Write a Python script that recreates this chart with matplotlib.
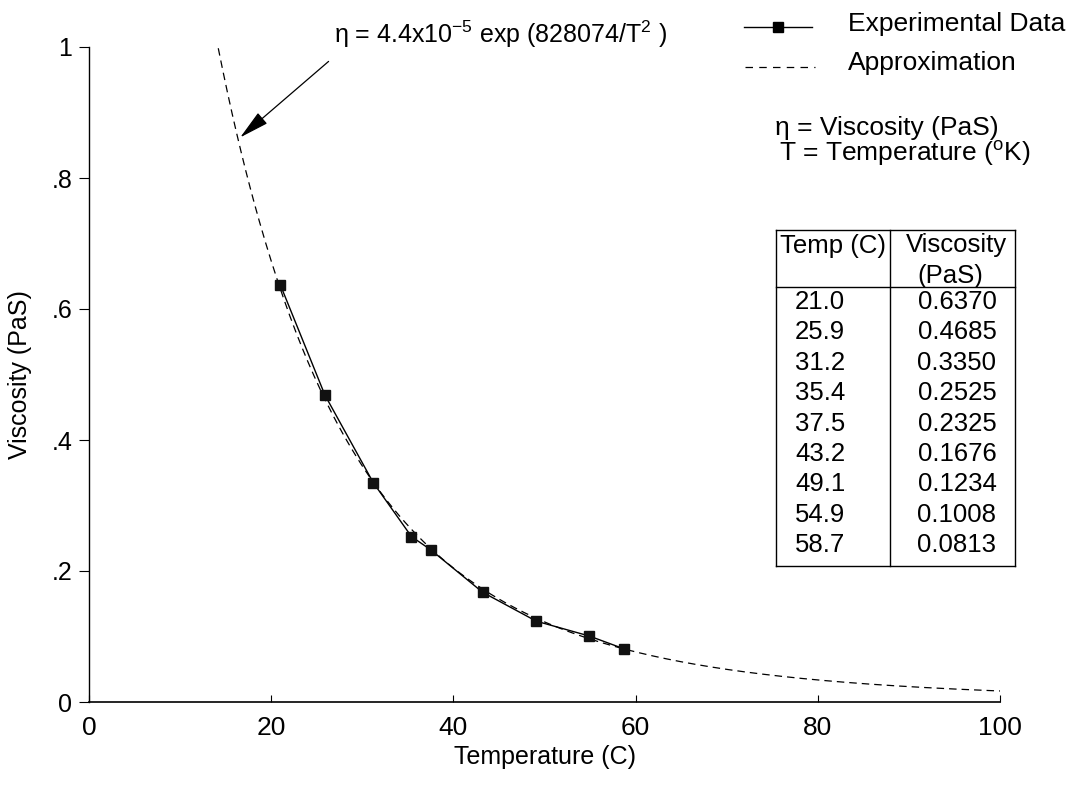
import numpy as np
import matplotlib
matplotlib.use("Agg")
import matplotlib.pyplot as plt
from matplotlib.lines import Line2D

plt.rcParams['font.family'] = ['Liberation Sans', 'DejaVu Sans']
plt.rcParams['mathtext.fontset'] = 'custom'
plt.rcParams['mathtext.rm'] = 'Liberation Sans'
plt.rcParams['mathtext.it'] = 'Liberation Sans'
plt.rcParams['mathtext.default'] = 'regular'

# Measured viscosity data
temps_c = [21.0, 25.9, 31.2, 35.4, 37.5, 43.2, 49.1, 54.9, 58.7]
viscosity = [0.6370, 0.4685, 0.3350, 0.2525, 0.2325, 0.1676, 0.1234, 0.1008, 0.0813]

# Fitted model: eta = A * exp(B / T^2), T in Kelvin
coef_a = 4.4e-5
coef_b = 828074.0

x_ticks = [0, 20, 40, 60, 80, 100]
y_ticks = [0, 0.2, 0.4, 0.6, 0.8, 1.0]
y_tick_labels = ['0', '.2', '.4', '.6', '.8', '1']

W, H = 1073, 785
fig = plt.figure(figsize=(W / 100, H / 100), dpi=100)
ax = fig.add_axes([89 / W, 1 - 702 / H, 911 / W, 655 / H])

# Approximation curve, clipped at the top of the axes
t_fit = np.linspace(0, 100, 600)
eta_fit = coef_a * np.exp(coef_b / (t_fit + 273.15) ** 2)
mask = eta_fit <= 1.0
ax.plot(t_fit[mask], eta_fit[mask], color='black', lw=0.9, ls=(0, (6, 4)))

# Experimental data
ax.plot(temps_c, viscosity, color='black', lw=1.0, marker='s', ms=7,
        markerfacecolor='#111111', markeredgecolor='#111111')

ax.set_xlim(0, 100)
ax.set_ylim(0, 1.0)
ax.set_xticks(x_ticks)
ax.set_yticks(y_ticks)
ax.set_yticklabels(y_tick_labels)
ax.spines['top'].set_visible(False)
ax.spines['right'].set_visible(False)
ax.spines['left'].set_linewidth(1.0)
ax.spines['bottom'].set_linewidth(1.2)
ax.tick_params(axis='x', direction='in', length=5, width=0.8, labelsize=19, pad=10)
ax.tick_params(axis='y', direction='out', length=7, width=0.8, labelsize=18, pad=5)
ax.set_xlabel('Temperature (C)', fontsize=18, labelpad=4)
ax.set_ylabel('Viscosity (PaS)', fontsize=18, labelpad=14)

# Equation label with arrow onto the curve
ax.text(26.9, 1.006, 'η = 4.4x10$^{-5}$ exp (828074/T$^{2}$ )', fontsize=18,
        ha='left', va='baseline')
ax.annotate('', xy=(16.6, 0.862), xytext=(26.3, 0.978),
            arrowprops=dict(arrowstyle='-|>,head_length=0.85,head_width=0.2',
                            color='black', lw=0.9, mutation_scale=22,
                            shrinkA=0, shrinkB=0),
            annotation_clip=False)

# Legend drawn in figure pixels
def fx(px):
    return px / W

def fy(py):
    return 1 - py / H

fig.add_artist(Line2D([fx(744), fx(812)], [fy(27), fy(27)], color='black', lw=1.0,
                      transform=fig.transFigure))
fig.add_artist(Line2D([fx(778)], [fy(27)], color='black', marker='s', ms=7,
                      transform=fig.transFigure))
fig.text(fx(848), fy(24), 'Experimental Data', fontsize=19, ha='left', va='center')
fig.add_artist(Line2D([fx(745), fx(815)], [fy(67), fy(67)], color='black', lw=0.9,
                      ls=(0, (6, 5)), transform=fig.transFigure))
fig.text(fx(848), fy(63), 'Approximation', fontsize=19, ha='left', va='center')
fig.text(fx(887), fy(128), 'η = Viscosity (PaS)', fontsize=19, ha='center', va='center')
fig.text(fx(905), fy(154), 'T = Temperature ($^{o}$K)', fontsize=19, ha='center', va='center')

# Data table
tl, tr, tt, tb = 776, 1015, 230, 566
tc, th = 890, 287
for xs, ys in [([tl, tr], [tt, tt]), ([tl, tr], [tb, tb]), ([tl, tl], [tt, tb]),
               ([tr, tr], [tt, tb]), ([tc, tc], [tt, tb]), ([tl, tr], [th, th])]:
    fig.add_artist(Line2D([fx(v) for v in xs], [fy(v) for v in ys], color='black',
                          lw=1.0, transform=fig.transFigure))
fig.text(fx(833), fy(246), 'Temp (C)', fontsize=18.5, ha='center', va='center')
fig.text(fx(956), fy(245), 'Viscosity', fontsize=18.5, ha='center', va='center')
fig.text(fx(950), fy(276), '(PaS)', fontsize=18.5, ha='center', va='center')
row0, row_step = 302, 30.4
for i, (t, v) in enumerate(zip(temps_c, viscosity)):
    yy = row0 + i * row_step
    fig.text(fx(820), fy(yy), f'{t:.1f}', fontsize=18.5, ha='center', va='center')
    fig.text(fx(957), fy(yy), f'{v:.4f}', fontsize=18.5, ha='center', va='center')

fig.savefig('out.png', dpi=100)
